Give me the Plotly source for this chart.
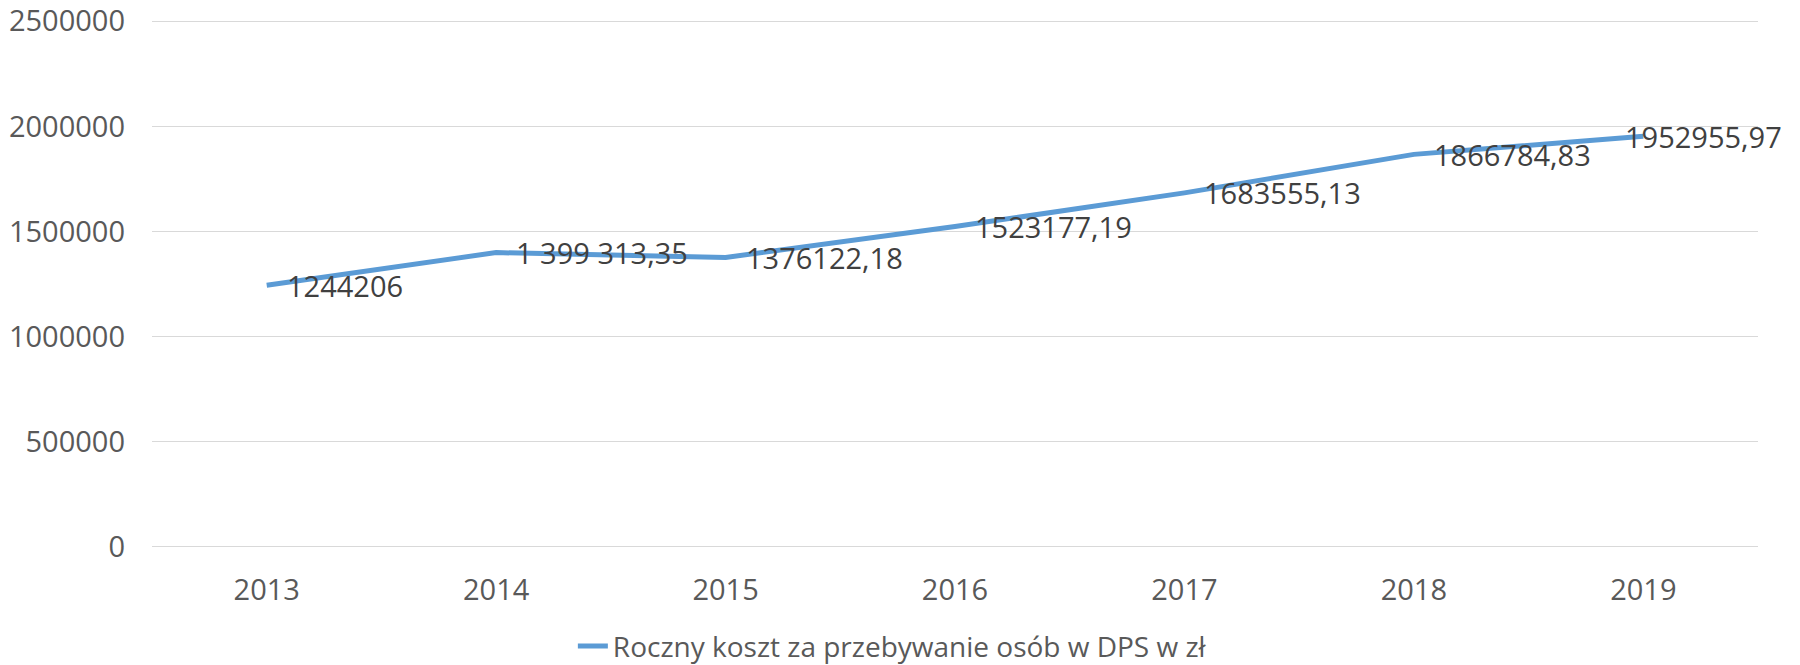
import plotly.graph_objects as go

years = ["2013", "2014", "2015", "2016", "2017", "2018", "2019"]
cost = [1244206, 1399313.35, 1376122.18, 1523177.19, 1683555.13, 1866784.83, 1952955.97]
cost_labels = ["1244206", "1 399 313,35", "1376122,18", "1523177,19",
               "1683555,13", "1866784,83", "1952955,97"]
series_name = "Roczny koszt za przebywanie osób w DPS w zł"
y_ticks = [0, 500000, 1000000, 1500000, 2000000, 2500000]

FONT = "Open Sans"

fig = go.Figure()

fig.add_trace(go.Scatter(
    x=years,
    y=cost,
    mode="lines",
    name=series_name,
    line=dict(color="#5B9BD5", width=5),
))

# data labels sit to the right of each point, last one is pulled back inside
for i, (val, lab) in enumerate(zip(cost, cost_labels)):
    fig.add_annotation(
        x=i, y=val, xref="x", yref="y", text=lab,
        showarrow=False,
        xanchor="left", yanchor="middle",
        xshift=-20 if i == len(years) - 1 else 18,
        font=dict(family=FONT, size=29, color="#404040"),
    )

fig.update_layout(
    width=1800,
    height=665,
    margin=dict(l=152, r=42, t=20, b=117, autoexpand=False),
    plot_bgcolor="white",
    paper_bgcolor="white",
    showlegend=True,
    legend=dict(
        orientation="h",
        x=0.461, xanchor="center",
        y=-0.186, yanchor="middle",
        font=dict(family=FONT, size=28, color="#595959"),
    ),
    xaxis=dict(
        type="category",
        range=[-0.5, 6.5],
        automargin=False,
        showgrid=False,
        showline=False,
        ticks="",
        ticklabelstandoff=22,
        tickfont=dict(family=FONT, size=29, color="#595959"),
    ),
    yaxis=dict(
        # small padding at both ends so the 0 and 2500000 gridlines are kept
        range=[-6000, 2506000],
        tickvals=y_ticks,
        tickformat="d",
        automargin=False,
        showgrid=True,
        gridcolor="#D9D9D9",
        gridwidth=1,
        zeroline=False,
        showline=False,
        ticks="",
        ticklabelstandoff=26,
        ticklabeloverflow="allow",
        tickfont=dict(family=FONT, size=29, color="#595959"),
    ),
)

# drop the default 8px body margin so the figure fills the window
fig.write_html(
    "out.html",
    config={"displayModeBar": False},
    post_script="document.body.style.margin='0';",
)
